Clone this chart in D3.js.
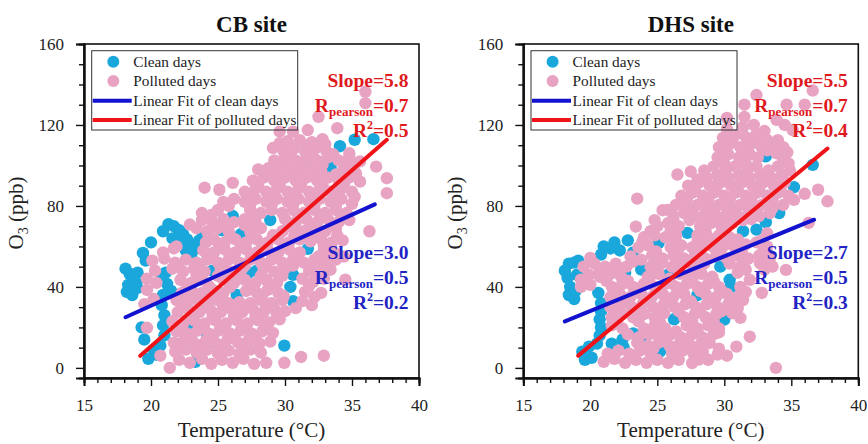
<!DOCTYPE html>
<html>
<head>
<meta charset="utf-8">
<script src="https://cdn.jsdelivr.net/npm/d3@7"></script>
<style>
  html, body { margin: 0; padding: 0; background: #fff; }
  svg { display: block; font-family: "Liberation Serif", "Times New Roman", serif; }
</style>
</head>
<body>
<svg id="chart" width="868" height="444"></svg>
<script>
// ---- data ----------------------------------------------------------------
const siteTitles = ["CB site", "DHS site"];
const xTicks = [15, 20, 25, 30, 35, 40];
const yTicks = [0, 40, 80, 120, 160];
const legendLabels = ["Clean days", "Polluted days", "Linear Fit of clean days", "Linear Fit of polluted days"];

// [temperature °C, O3 ppb]
const cbClean = [
  [18.1,49],[18.4,46.5],[18.7,44],[19.0,47],[18.3,41],[18.2,37.5],[18.6,36],[19.0,39.5],[18.9,42],
  [19.4,56.8],[20.0,62],[19.6,53],[20.9,67.5],[21.3,71],[21.7,70],[22.1,68],[22.4,66],[22.7,63.5],
  [23.0,61],[22.6,58],[22.2,61],[21.6,64],[23.4,59],[23.0,55],[23.9,66],[23.6,63],[24.2,56],
  [20.8,44],[21.2,41.5],[21.5,38],[21.1,47],[20.9,36],[20.8,31],[21.0,26],[20.9,21],[21.0,16],
  [20.7,11],[20.4,6.5],[19.8,4.5],[19.5,14],[19.3,20],[20.2,9],[29.95,11],[30.6,46],[30.6,33],
  [30.4,40],[35.2,112.7],[36.6,113],[34.1,109.5],[31.7,58.8],[28.9,73],[26.4,36],[26.1,75],
  [24.6,48],[27.3,47],[25.3,68],[23.5,28],[24.2,15.5],[23.3,3],[22.2,12],[22.8,22],[27.9,48],
  [26.7,66],[33.4,99],[32.0,104]
];
const cbPolluted = [
  [21.4,0],[22.1,4],[22.9,2.5],[23.8,4.5],[24.5,2],[25.3,4],[26.1,2.5],[26.9,4.5],[27.7,2],[28.6,2.5],[29.95,2.5],[31.2,5.4],[32.9,6],
  [20.7,6],[21.8,8],[22.6,9],[23.4,7.5],[24.2,9],[25.0,7],[25.8,8.5],[26.6,7],[27.4,9],[28.2,7.5],
  [21.7,12.5],[22.5,14],[23.3,12],[24.1,13.5],[24.9,12],[25.7,14],[26.5,12.5],[27.3,14],[28.1,12],[28.9,13],
  [19.7,19.8],[21.9,18],[22.7,17],[23.5,18.5],[24.3,17],[25.1,18.5],[25.9,17],[26.7,18.5],[27.5,17],[28.3,18],[29.1,17.3],
  [21.6,23],[22.4,22],[23.2,23.5],[24.0,22],[24.8,23.5],[25.6,22],[26.4,23.5],[27.2,22],[28.0,23.5],[28.8,22.5],[29.6,24],
  [22.0,27.5],[22.8,29],[23.6,27.5],[24.4,29],[25.2,27.5],[26.0,29],[26.8,27.5],[27.6,29],[28.4,27.5],[29.2,29],[30.0,28],[30.8,29.5],
  [19.5,31.5],[20.2,34],[21.9,33.5],[22.6,32],[23.4,33.5],[24.2,32],[25.0,33.5],[25.8,32],[26.6,32.5],[27.4,32],[28.2,33.5],[29.0,32],[29.8,33.5],[31.3,33],[32.0,31],
  [19.7,38.5],[22.3,37],[23.0,38.5],[23.8,37],[24.6,38.5],[25.4,37],[27.1,38],[27.9,37],[28.7,38.5],[29.5,37],[31.5,37.5],[32.7,37],
  [19.7,44],[20.4,42],[22.2,43.5],[23.0,42],[23.8,43.5],[25.4,43.5],[26.2,42],[27.0,43.5],[27.8,42],[28.6,43.5],[29.4,42],[31.3,44],[32.1,42.5],[32.9,44],[34.5,43.6],
  [20.3,48],[21.6,49],[22.4,47.5],[23.2,49],[24.0,47.5],[25.2,49],[26.0,47.5],[26.8,49],[28.4,49],[29.2,47.5],[30.0,49],[31.8,48],[32.6,47],[33.4,48.5],
  [20.1,53],[21.0,54],[21.8,52],[22.6,53.5],[23.4,52],[24.2,53.5],[25.0,52],[25.8,53.5],[26.6,52],[27.4,53.5],[28.2,52],[29.0,53.5],[29.8,52],[30.6,53.5],[31.4,52],[32.2,53.5],[33.0,52],[33.8,53.5],
  [20.9,57],[21.7,59],[23.9,58],[24.7,57],[25.5,58.5],[26.3,57],[27.1,58.5],[27.9,57],[28.7,58.5],[29.5,57],[30.3,58.5],[31.1,57],[32.5,55],[32.9,58.5],[33.7,57],[34.4,55],
  [21.9,60],[24.1,62],[24.7,63.5],[25.5,62],[26.3,63.5],[27.1,62],[27.9,63.5],[28.7,62],[29.5,63.5],[30.3,62],[31.1,63.5],[31.9,62.5],[32.7,63.5],[33.5,62],[34.3,63],
  [23.4,69],[24.2,67.5],[25.0,69],[25.8,67.5],[27.4,67.5],[28.2,69],[29.8,67.5],[30.6,69],[31.4,67.5],[32.2,69],[33.0,67.5],[33.8,69],[36.3,67.5],
  [22.9,70.8],[23.8,73],[24.6,72],[25.4,73.5],[26.2,72],[27.0,73.5],[27.8,72],[30.0,73.5],[30.8,72],[31.6,73.5],[32.4,72],[33.2,73.5],[34.0,72],[34.8,73],
  [23.8,76.5],[25.0,78],[27.4,78],[28.2,76.5],[29.0,78],[29.8,76.5],[30.6,78],[31.4,76.5],[32.2,78],[33.0,76.5],[33.8,78],[34.6,76.5],
  [25.4,82],[26.2,83.5],[27.0,82],[27.8,83.5],[28.6,82],[29.4,83.5],[30.2,82],[31.0,83.5],[31.8,82],[32.6,83.5],[33.4,82],[34.2,83.5],[35.0,81],
  [24.0,89],[25.1,88],[26.1,91.4],[27.0,87],[27.8,88.5],[28.6,87],[29.4,88.5],[30.2,87],[31.0,88.5],[31.8,87],[32.6,88.5],[33.4,87],[34.2,88.5],[35.0,87],[37.6,86.3],
  [27.6,92.5],[28.4,94],[29.2,92.5],[30.0,94],[30.8,92.5],[31.6,94],[32.4,92.5],[33.2,94],[34.0,92.5],[34.8,94],[35.6,92],[37.6,93.7],
  [28.0,98],[28.75,98.6],[29.5,97.5],[30.3,99],[31.1,97.5],[31.9,99],[32.7,97.5],[34.3,97.5],[35.1,99],[36.8,99.4],
  [29.2,102.5],[30.0,104],[30.8,102.5],[31.6,104],[32.4,102.5],[33.2,104],[34.0,102.5],[34.8,104],[35.6,102],
  [29.1,108.6],[29.9,107],[30.7,108.5],[31.5,107],[32.3,108.5],[33.1,107],[34.8,106],
  [30.2,112],[31.1,112.5],[32.0,111.5],[32.8,113],
  [29.6,116.7],[30.6,116.7],[31.7,117.5],[33.9,118.4],[32.5,124],[36.0,136.4],[36.0,130.8],
  [22.2,10.5],[23.8,10.5],[25.4,10.5],[27.0,10.5],
  [23.0,15.5],[24.6,15.5],[26.2,15.5],[27.8,15.5],
  [22.2,20.5],[23.9,20.5],[25.4,20.5],[27.0,20.5],[28.6,20.5],
  [23.0,25.5],[24.6,25.5],[26.2,25.5],[27.8,25.5],[29.4,26],
  [22.3,30.5],[23.9,30.5],[25.4,30.5],[27.0,30.5],[28.6,30.5],
  [23.1,35.5],[24.7,35.5],[28.3,35.5],[29.9,35.5],[32.2,35],
  [22.7,40.5],[24.3,40.5],[25.9,40],[27.5,40.5],[29.1,40.5],[31.8,40.5],
  [23.4,45.5],[25.0,45.5],[26.6,45.5],[28.2,45.5],[29.8,45.5],[32.4,45.5],
  [22.0,50.5],[23.6,50.5],[25.4,50.5],[27.0,50.5],[28.6,50.5],[30.6,50.5],[32.2,50.5],
  [24.3,55.5],[25.9,55.5],[27.5,55.5],[29.1,55.5],[30.7,55.5],[33.3,55.5],
  [25.1,60.5],[26.7,60.5],[28.3,60.5],[29.9,60.5],[32.9,60.5],
  [24.3,65.5],[25.9,65.5],[27.5,65.5],[29.1,65.5],[30.7,65.5],[32.3,65.5],[33.9,65.5],
  [25.4,70.5],[27.0,70.5],[30.3,70.5],[31.9,70.5],[33.5,70.5],
  [24.5,75.5],[27.8,75.5],[31.0,75.5],[32.6,75.5],[34.2,75.5],
  [25.8,80],[27.4,80.5],[29.0,80.5],[30.6,80.5],[32.2,80.5],[33.8,80.5],
  [27.4,85.5],[29.0,85.5],[30.6,85.5],[32.2,85.5],[33.8,85.5],[35.2,84.5],
  [28.0,90.5],[29.6,90.5],[31.2,90.5],[32.8,90.5],[34.4,90.5],
  [29.0,95.5],[30.6,95.5],[32.2,95.5],[33.8,95.5],[35.3,96],
  [29.6,100.5],[31.2,100.5],[32.8,100.5],[34.4,100.5],
  [30.4,105.5],[32.0,105.5],[33.6,105.5],
  [29.6,111],[31.6,110],[33.0,110.5]
];
const dhsClean = [
  [18.1,48],[18.4,51.5],[18.8,52],[19.1,53],[18.3,44.5],[18.5,40],[18.4,36],[18.8,34],[19.0,46],[18.9,38],
  [19.4,8],[19.6,4],[20.1,5],[19.9,10.5],[20.5,12],[20.7,16],[20.8,20],[20.7,24],[20.8,28],[20.8,32],[20.6,37],
  [21.6,12],[22.4,14],[23.2,17],[22.5,10],[21.0,60],[21.5,59],[22.2,58],[22.8,63],[23.2,57],[20.8,56],[21.8,62],
  [23.8,48.6],[25.1,61.7],[27.25,66.7],[30.0,23.9],[29.7,50],[30.4,43.5],[30.5,40],[31.4,67.5],[32.4,68.3],
  [33.1,72],[34.1,76.5],[33.1,104.5],[35.2,89.3],[36.6,100.3],[26.25,24],[24.0,12],[25.2,8],[22.6,47],[28.0,36],[25.8,46]
];
const dhsPolluted = [
  [21.0,3],[21.8,4.5],[22.6,2.5],[23.4,4],[24.2,2.5],[25.0,4],[25.8,2.5],[26.6,4],[27.6,2.4],[28.1,4.1],[28.8,4],[33.85,0],
  [21.3,7],[22.1,8.5],[22.9,7],[23.7,8.5],[24.5,7],[26.1,7],[26.9,8.5],[27.7,7],[28.4,8],[29.5,6.6],[30.2,6],
  [23.5,12.5],[24.3,11],[25.1,12.5],[25.9,11],[26.7,12.5],[27.5,11],[28.3,12.5],[28.9,12.3],[30.9,10.5],
  [22.8,16.5],[23.6,15],[24.4,16.5],[25.2,15],[26.0,16.5],[26.8,15],[27.6,16.5],[28.4,15],[29.2,16.5],[31.9,15.4],
  [21.6,21],[22.4,19.5],[24.0,19.5],[24.8,21],[25.6,19.5],[27.2,21],[28.0,19.5],[28.8,21],[29.6,19.5],
  [21.6,25],[22.4,26.5],[23.2,25],[24.0,26.5],[24.8,25],[25.5,27],[27.0,25],[27.8,26.5],[28.6,25],[29.4,26.5],[30.6,27],[31.2,24.7],
  [21.5,30],[22.3,31.5],[23.1,30],[23.9,31.5],[24.7,30],[25.5,31.5],[26.3,30],[27.1,31.5],[27.9,30],[28.7,31.5],[29.5,30],[30.3,31.5],[31.4,33.5],
  [21.5,35],[22.2,36.5],[23.0,35],[23.8,36.5],[24.6,35],[25.4,36.5],[26.2,35],[27.0,36.5],[28.6,36.5],[29.4,35],[30.2,36.5],[31.0,35],[32.8,37],
  [19.3,40],[20.0,41],[21.6,40],[22.4,41.5],[23.2,40],[24.0,41.5],[24.8,40],[25.6,41.5],[26.4,40],[27.2,41.5],[28.0,40],[28.8,41.5],[29.6,40],[31.2,40],[31.9,43.5],
  [19.3,43.6],[19.9,46],[20.7,45],[21.5,46.5],[22.3,45],[24.3,45],[25.1,46.5],[25.9,44],[26.7,46.5],[27.5,45],[28.3,46.5],[29.1,45],[31.0,47],
  [19.5,50],[20.3,51.5],[21.1,50],[21.9,51.5],[22.7,50],[24.5,50],[25.3,51.5],[26.1,50],[26.9,51.5],[27.7,50],[28.5,51.5],[30.4,51.5],[31.2,50],[32.65,51.8],[33.6,50],[34.6,48.4],
  [20.0,54.3],[23.0,55],[23.8,53.5],[24.6,55.5],[25.4,54],[26.2,55.5],[27.0,54],[27.8,55.5],[28.6,54],[29.4,55.5],[30.2,54],[31.0,55.5],[31.8,54],[32.6,55.5],[33.4,54],
  [23.6,59.5],[24.3,60.5],[26.0,59.5],[26.8,60.5],[27.6,59.5],[28.4,60.5],[29.2,59.5],[30.0,60.5],[30.8,59.5],[31.6,61],[32.4,62],[33.2,60],
  [24.0,64.5],[24.8,65.5],[25.6,64.5],[26.4,65.5],[28.0,65.5],[28.8,64.5],[29.6,65.5],[30.4,64.5],[31.0,63.5],[33.2,66.5],
  [23.4,69.8],[25.0,70],[25.8,71.5],[26.6,70],[28.2,70],[29.0,71.5],[29.8,70],[30.6,71.5],[36.3,71.6],
  [25.4,77.9],[26.2,75],[27.0,76.5],[27.8,75],[28.6,76.5],[29.4,75],[30.2,76.5],[31.0,75],[31.8,76.5],[32.6,75],[33.4,76.5],
  [26.4,80.5],[27.2,79],[28.0,80.5],[28.8,79],[29.6,80.5],[30.4,79],[31.2,80.5],[32.0,79],[32.8,80.5],[33.6,79],[34.4,80.5],[37.7,82.3],
  [23.5,83.6],[26.8,85],[27.6,86.5],[28.4,85],[29.2,86.5],[30.0,85],[30.8,86.5],[31.6,85],[32.4,86.5],[33.2,85],[34.0,86.5],[34.8,85],[36.0,86],[37.0,88],
  [27.3,90],[28.1,91.5],[28.9,90],[29.7,91.5],[30.5,90],[31.3,91.5],[32.1,90],[32.9,91.5],[33.7,90],[34.5,91.5],
  [26.5,95.5],[27.5,97],[28.7,94],[29.5,95.5],[30.3,94],[31.1,95.5],[31.9,94],[32.7,95.5],[33.5,94],[34.3,95.5],
  [29.2,99.4],[30.0,101],[30.8,99.5],[31.6,101],[32.4,99.5],[34.0,99.5],[34.8,101],
  [29.5,104],[30.3,105.5],[31.1,104],[31.9,105.5],[32.5,104],[33.9,106],[34.7,106.5],
  [29.6,109],[30.4,110.5],[31.2,109],[32.0,110.5],[32.8,109],[33.6,110.5],[34.4,109],
  [29.9,113.6],[30.8,115],[31.6,114],[32.4,115.5],[33.2,112.6],[35.1,117.5],[31.4,119],[32.2,120],
  [30.2,123.5],[31.5,130],[32.4,134.8],[33.9,122.5],[34.65,130],[36.0,130],[36.6,137],[31.5,124],
  [24.7,9.5],[26.5,9.5],[28.0,9.5],[29.6,9.5],
  [25.6,14],[27.2,14],[28.8,14],
  [25.2,18],[26.4,18],[28.0,18],[29.6,17.5],
  [22.0,23],[23.6,23],[25.2,22.5],[27.6,23],[29.2,23],
  [22.0,28],[23.6,28],[25.2,28.5],[26.6,28],[28.2,28],[29.8,28],[31.0,29.5],
  [22.7,33],[24.3,33],[25.9,33],[27.5,33],[29.1,33],[30.7,33],
  [21.9,38],[23.4,38],[25.0,38],[26.6,38],[28.2,38],[29.8,38],[31.6,37.5],
  [21.2,43],[22.8,43],[24.4,43],[26.0,42],[27.6,43],[29.2,43],
  [20.7,48],[22.0,48],[25.0,48],[26.6,48],[28.0,48],[31.6,48.5],[33.0,48.5],
  [23.2,52.5],[24.9,52.5],[26.5,53],[28.1,53],[31.5,52.5],[33.1,52.5],
  [24.9,57.5],[26.5,57.5],[28.1,57.5],[29.7,57.5],[31.3,57.5],[32.9,57.5],
  [23.9,62.5],[26.4,62.5],[28.0,62.5],[29.6,62.5],[32.8,63],
  [24.5,67.5],[26.0,67.5],[28.6,67.5],[30.0,67.5],
  [24.8,73],[26.2,73],[27.4,73],[28.6,73.5],[30.0,73],[31.4,73],[32.0,73.5],
  [25.8,78],[27.6,78],[29.2,78],[30.8,78],[32.4,78],
  [27.2,83],[28.8,83],[30.4,83],[32.0,83],[33.6,83],[35.2,83],
  [27.8,88],[29.4,88],[31.0,88],[32.6,88],[34.2,88],
  [28.0,93],[29.6,93.5],[31.2,93],[32.8,93],[34.4,93],
  [28.5,97.5],[30.1,97.5],[31.7,97.5],[33.3,97.5],[34.9,97.5],
  [29.6,102.5],[31.2,102.5],[34.4,103],
  [30.0,107.5],[31.6,107.5],[33.2,107.5],
  [30.6,112.5],[32.4,112],[34.0,112.5],
  [30.2,118],[33.0,117],[34.5,120]
];

// linear fits per site: index 0 = clean days, 1 = polluted days
const fitSlopes     = [[3.0, 5.8], [2.7, 5.5]];
const fitIntercepts = [[-29.3, -105.4], [-25.9, -99.0]];
const fitXRanges    = [[[18.1, 36.7], [19.2, 37.6]], [[18.1, 36.7], [19.1, 37.7]]];
const rPearson      = [[0.5, 0.7], [0.5, 0.7]];
const rSquared      = [[0.2, 0.5], [0.3, 0.4]];

// ---- styling ---------------------------------------------------------------
const cleanColor = "#1aa8dc";
const pollutedColor = "#e8a3c2";
const cleanLineColor = "#1212cf";
const pollutedLineColor = "#ee1418";
const cleanTextColor = "#2323c4";
const pollutedTextColor = "#e0191c";
const pointR = 6.2;
const legendR = 6;

const svg = d3.select("#chart");
const panels = [
  { left: 84, clean: cbClean, polluted: cbPolluted },
  { left: 523.3, clean: dhsClean, polluted: dhsPolluted }
];
const plotW = 335, plotTop = 44, plotBottom = 378;

panels.forEach((p, i) => {
  const x = d3.scaleLinear().domain([15, 40]).range([p.left, p.left + plotW]);
  const y = d3.scaleLinear().domain([-5, 160]).range([plotBottom, plotTop]);
  const g = svg.append("g");

  // scatter: clean first, polluted on top
  g.append("g").selectAll("circle").data(p.clean).join("circle")
    .attr("cx", d => x(d[0])).attr("cy", d => y(d[1])).attr("r", pointR)
    .attr("fill", cleanColor);
  g.append("g").selectAll("circle").data(p.polluted).join("circle")
    .attr("cx", d => x(d[0])).attr("cy", d => y(d[1])).attr("r", pointR)
    .attr("fill", pollutedColor);

  // fit lines
  [0, 1].forEach(k => {
    const [x0, x1] = fitXRanges[i][k];
    const f = v => fitSlopes[i][k] * v + fitIntercepts[i][k];
    g.append("line")
      .attr("x1", x(x0)).attr("y1", y(f(x0)))
      .attr("x2", x(x1)).attr("y2", y(f(x1)))
      .attr("stroke", k === 0 ? cleanLineColor : pollutedLineColor)
      .attr("stroke-width", 4).attr("stroke-linecap", "round");
  });

  // frame
  g.append("rect").attr("x", p.left).attr("y", plotTop)
    .attr("width", plotW).attr("height", plotBottom - plotTop)
    .attr("fill", "none").attr("stroke", "#111").attr("stroke-width", 1.6);

  // axes
  const xAxis = d3.axisBottom(x).tickValues(xTicks).tickSize(8).tickPadding(13).tickFormat(d3.format("d"));
  const xMinor = d3.axisBottom(x).tickValues(d3.range(15, 41, 1).filter(v => !xTicks.includes(v))).tickSize(5).tickFormat("");
  const yAxis = d3.axisLeft(y).tickValues(yTicks).tickSize(8).tickPadding(12).tickFormat(d3.format("d"));
  const yMinor = d3.axisLeft(y).tickValues(d3.range(0, 161, 10).filter(v => !yTicks.includes(v))).tickSize(5).tickFormat("");

  [[xAxis, "x"], [xMinor, "x"], [yAxis, "y"], [yMinor, "y"]].forEach(([ax, t]) => {
    const a = g.append("g")
      .attr("transform", t === "x" ? `translate(0,${plotBottom})` : `translate(${p.left},0)`)
      .call(ax);
    a.select(".domain").attr("stroke", "#111").attr("stroke-width", 2);
    a.selectAll(".tick line").attr("stroke", "#111").attr("stroke-width", 1.4);
    a.selectAll(".tick text").attr("font-family", "Liberation Serif").attr("font-size", 17).attr("fill", "#222");
  });

  // titles
  const cx = p.left + plotW / 2;
  g.append("text").attr("x", cx).attr("y", 31.5).attr("text-anchor", "middle")
    .attr("font-size", 23).attr("font-weight", "bold").attr("fill", "#111").text(siteTitles[i]);
  g.append("text").attr("x", cx).attr("y", 437).attr("text-anchor", "middle")
    .attr("font-size", 21).attr("fill", "#222").text("Temperature (°C)");
  const yl = g.append("text").attr("transform", `translate(${p.left - 61},213) rotate(-90)`)
    .attr("text-anchor", "middle").attr("font-size", 21).attr("fill", "#222");
  yl.append("tspan").text("O");
  yl.append("tspan").attr("font-size", 14).attr("dy", 5).text("3");
  yl.append("tspan").attr("dy", -5).text(" (ppb)");

  // legend
  const lx = p.left + 7.7, ly = 50.7;
  const lg = g.append("g");
  lg.append("rect").attr("x", lx).attr("y", ly).attr("width", 206).attr("height", 79.3)
    .attr("fill", "none").attr("stroke", "#333").attr("stroke-width", 1);
  const rows = [61.7, 81, 100.7, 120];
  lg.append("circle").attr("cx", lx + 21.6).attr("cy", rows[0]).attr("r", legendR).attr("fill", cleanColor);
  lg.append("circle").attr("cx", lx + 21.6).attr("cy", rows[1]).attr("r", legendR).attr("fill", pollutedColor);
  lg.append("line").attr("x1", lx + 1).attr("x2", lx + 40).attr("y1", rows[2]).attr("y2", rows[2])
    .attr("stroke", cleanLineColor).attr("stroke-width", 4);
  lg.append("line").attr("x1", lx + 1).attr("x2", lx + 40).attr("y1", rows[3]).attr("y2", rows[3])
    .attr("stroke", pollutedLineColor).attr("stroke-width", 4);
  legendLabels.forEach((t, k) => {
    lg.append("text").attr("x", lx + 41.6).attr("y", rows[k] + 5.3)
      .attr("font-size", 15.3).attr("fill", "#222").text(t);
  });

  // fit statistics
  const rx = p.left + plotW - 10.5;
  const stats = [
    { k: 1, color: pollutedTextColor, base: 87.3 },
    { k: 0, color: cleanTextColor, base: 259 }
  ];
  stats.forEach(s => {
    const common = t => t.attr("x", rx).attr("text-anchor", "end").attr("font-weight", "bold")
      .attr("fill", s.color).attr("font-size", 19.5);
    common(g.append("text").attr("y", s.base)).text(`Slope=${fitSlopes[i][s.k].toFixed(1)}`);
    const r = common(g.append("text").attr("y", s.base + 25));
    r.append("tspan").text("R");
    r.append("tspan").attr("font-size", 13).attr("dy", 4).text("pearson");
    r.append("tspan").attr("dy", -4).text(`=${rPearson[i][s.k].toFixed(1)}`);
    const r2 = common(g.append("text").attr("y", s.base + 49.5));
    r2.append("tspan").text("R");
    r2.append("tspan").attr("font-size", 12).attr("dy", -8).text("2");
    r2.append("tspan").attr("dy", 8).text(`=${rSquared[i][s.k].toFixed(1)}`);
  });
});
</script>
</body>
</html>
